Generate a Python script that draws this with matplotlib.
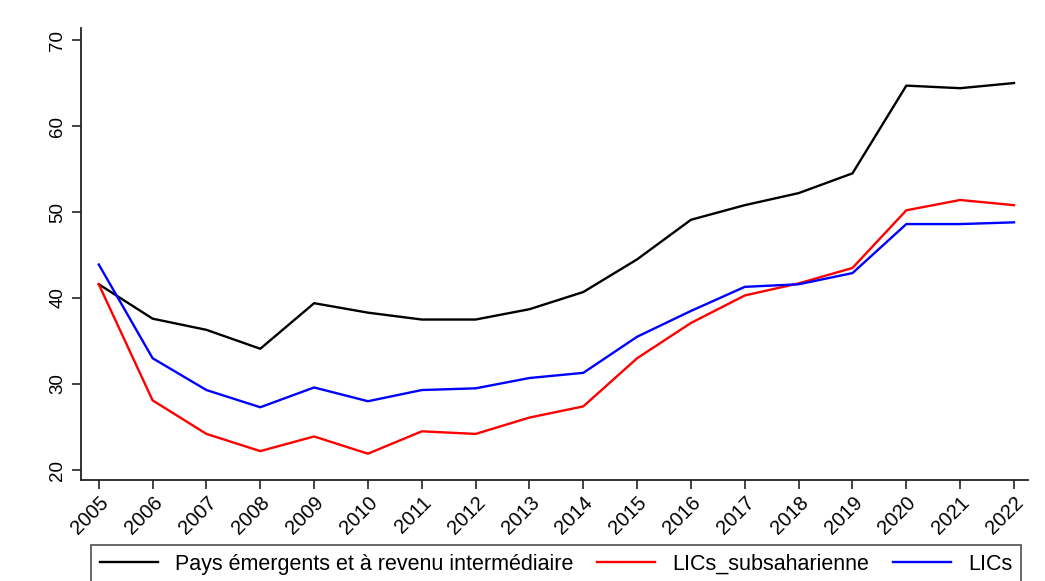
import matplotlib
matplotlib.use("Agg")
import matplotlib.pyplot as plt

years = list(range(2005, 2023))
emergents = [41.6, 37.6, 36.3, 34.1, 39.4, 38.3, 37.5, 37.5, 38.7, 40.7,
             44.5, 49.1, 50.8, 52.2, 54.5, 64.7, 64.4, 65.0]
lics_ssa = [41.6, 28.1, 24.2, 22.2, 23.9, 21.9, 24.5, 24.2, 26.1, 27.4,
            33.0, 37.1, 40.3, 41.7, 43.5, 50.2, 51.4, 50.8]
lics = [43.9, 33.0, 29.3, 27.3, 29.6, 28.0, 29.3, 29.5, 30.7, 31.3,
        35.5, 38.5, 41.3, 41.6, 42.9, 48.6, 48.6, 48.8]
labels = ["Pays émergents et à revenu intermédiaire", "LICs_subsaharienne", "LICs"]
yticks = [20, 30, 40, 50, 60, 70]

plt.rcParams['font.family'] = ['Liberation Sans', 'DejaVu Sans']

W, H = 1045, 581
fig = plt.figure(figsize=(W / 100, H / 100), dpi=100)
ax = fig.add_axes([81 / W, 1 - 480 / H, (1028 - 81) / W, (480 - 28) / H])

ax.plot(years, emergents, color='black', lw=1.7, label=labels[0])
ax.plot(years, lics_ssa, color='#ff0000', lw=1.7, label=labels[1])
ax.plot(years, lics, color='#0000ff', lw=1.7, label=labels[2])

ax.set_xlim(2004.67, 2022.26)
ax.set_ylim(18.84, 71.4)
ax.set_xticks(years)
ax.set_xticklabels([str(y) for y in years], rotation=45, ha='right',
                   rotation_mode='anchor', fontsize=14.5)
ax.set_yticks(yticks)
ax.set_yticklabels([str(v) for v in yticks], rotation=90, va='center', fontsize=13.5)
for s in ['top', 'right']:
    ax.spines[s].set_visible(False)
for s in ['left', 'bottom']:
    ax.spines[s].set_linewidth(1.3)
    ax.spines[s].set_color('#222222')
ax.tick_params(axis='both', length=6.5, width=1.2, color='#222222', labelcolor='black')
ax.tick_params(axis='x', pad=3)
ax.tick_params(axis='y', pad=4)

leg = fig.legend(loc='upper left', bbox_to_anchor=(91 / W, 1 - 545 / H, (1021 - 91) / W, 0),
                 mode='expand', ncol=3, fontsize=15.5, frameon=True, fancybox=False,
                 edgecolor='#333333', handlelength=2.7, handletextpad=0.8,
                 borderaxespad=0, borderpad=0.4, columnspacing=1.2)
leg.get_frame().set_linewidth(1.3)

fig.savefig('out.png', dpi=100)
